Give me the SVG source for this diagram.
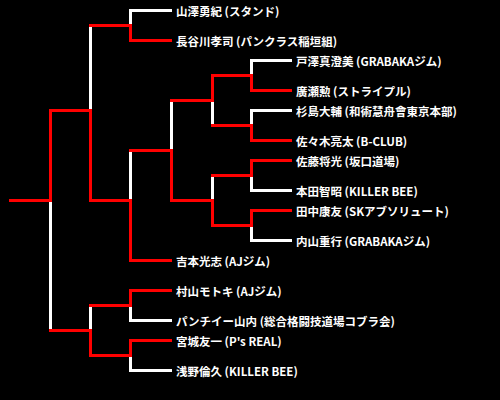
<svg xmlns="http://www.w3.org/2000/svg" width="500" height="400" viewBox="0 0 500 400">
<style>
.w{fill:none;stroke:#ffffff;stroke-width:3;stroke-linecap:square;stroke-linejoin:miter}
.r{fill:none;stroke:#ff0000;stroke-width:3;stroke-linecap:square;stroke-linejoin:miter}
text{font-family:"Noto Sans CJK JP","Noto Sans",sans-serif;font-weight:bold;font-size:11.5px;fill:#ffffff}
</style>
<rect x="0" y="0" width="500" height="400" fill="#000000"/>
<g id="connectors">
<path class="w" d="M170.5,10.5 H130.5 V25.5"/>
<path class="w" d="M90.5,25.5 V110.5"/>
<path class="w" d="M130.5,150.5 V200.5"/>
<path class="w" d="M171.5,100.5 V150.5"/>
<path class="w" d="M290.5,60.5 H251.5 V75.5"/>
<path class="w" d="M212.5,100.5 V125.5"/>
<path class="w" d="M290.5,110.5 H251.5 V125.5"/>
<path class="w" d="M290.5,190.5 H251.5 V175.5"/>
<path class="w" d="M212.5,175.5 V200.5"/>
<path class="w" d="M290.5,240.5 H251.5 V225.5"/>
<path class="w" d="M50.5,200.5 V330.5"/>
<path class="w" d="M90.5,305.5 V330.5"/>
<path class="w" d="M170.5,320.5 H130.5 V305.5"/>
<path class="w" d="M170.5,370.5 H130.5 V355.5"/>
<path class="r" d="M10.5,200.5 H50.5 V110.5 H90.5 V200.5 H130.5 V260.5 H170.5"/>
<path class="r" d="M170.5,40.5 H130.5 V25.5 H90.5"/>
<path class="r" d="M130.5,150.5 H171.5 V200.5 H212.5 V225.5 H251.5 V210.5 H290.5"/>
<path class="r" d="M171.5,100.5 H212.5 V75.5 H251.5 V90.5 H290.5"/>
<path class="r" d="M212.5,125.5 H251.5 V140.5 H290.5"/>
<path class="r" d="M212.5,175.5 H251.5 V160.5 H290.5"/>
<path class="r" d="M50.5,330.5 H90.5 V355.5 H130.5 V340.5 H170.5"/>
<path class="r" d="M90.5,305.5 H130.5 V290.5 H170.5"/>
</g>
<g id="n1"><text x="176" y="15.5">山澤勇紀 (スタンド)</text></g>
<g id="n2"><text x="176" y="45.5">長谷川孝司 (パンクラス稲垣組)</text></g>
<g id="n3"><text x="296" y="65.5">戸澤真澄美 (GRABAKAジム)</text></g>
<g id="n4"><text x="296" y="95.5">廣瀬勲 (ストライプル)</text></g>
<g id="n5"><text x="296" y="115.5">杉島大輔 (和術慧舟會東京本部)</text></g>
<g id="n6"><text x="296" y="145.5">佐々木亮太 (B-CLUB)</text></g>
<g id="n7"><text x="296" y="165.5">佐藤将光 (坂口道場)</text></g>
<g id="n8"><text x="296" y="195.5">本田智昭 (KILLER BEE)</text></g>
<g id="n9"><text x="296" y="215.5">田中康友 (SKアブソリュート)</text></g>
<g id="n10"><text x="296" y="245.5">内山重行 (GRABAKAジム)</text></g>
<g id="n11"><text x="176" y="265.5">吉本光志 (AJジム)</text></g>
<g id="n12"><text x="176" y="295.5">村山モトキ (AJジム)</text></g>
<g id="n13"><text x="176" y="325.5">パンチイー山内 (総合格闘技道場コブラ会)</text></g>
<g id="n14"><text x="176" y="345.5">宮城友一 (P's REAL)</text></g>
<g id="n15"><text x="176" y="375.5">浅野倫久 (KILLER BEE)</text></g>
</svg>
